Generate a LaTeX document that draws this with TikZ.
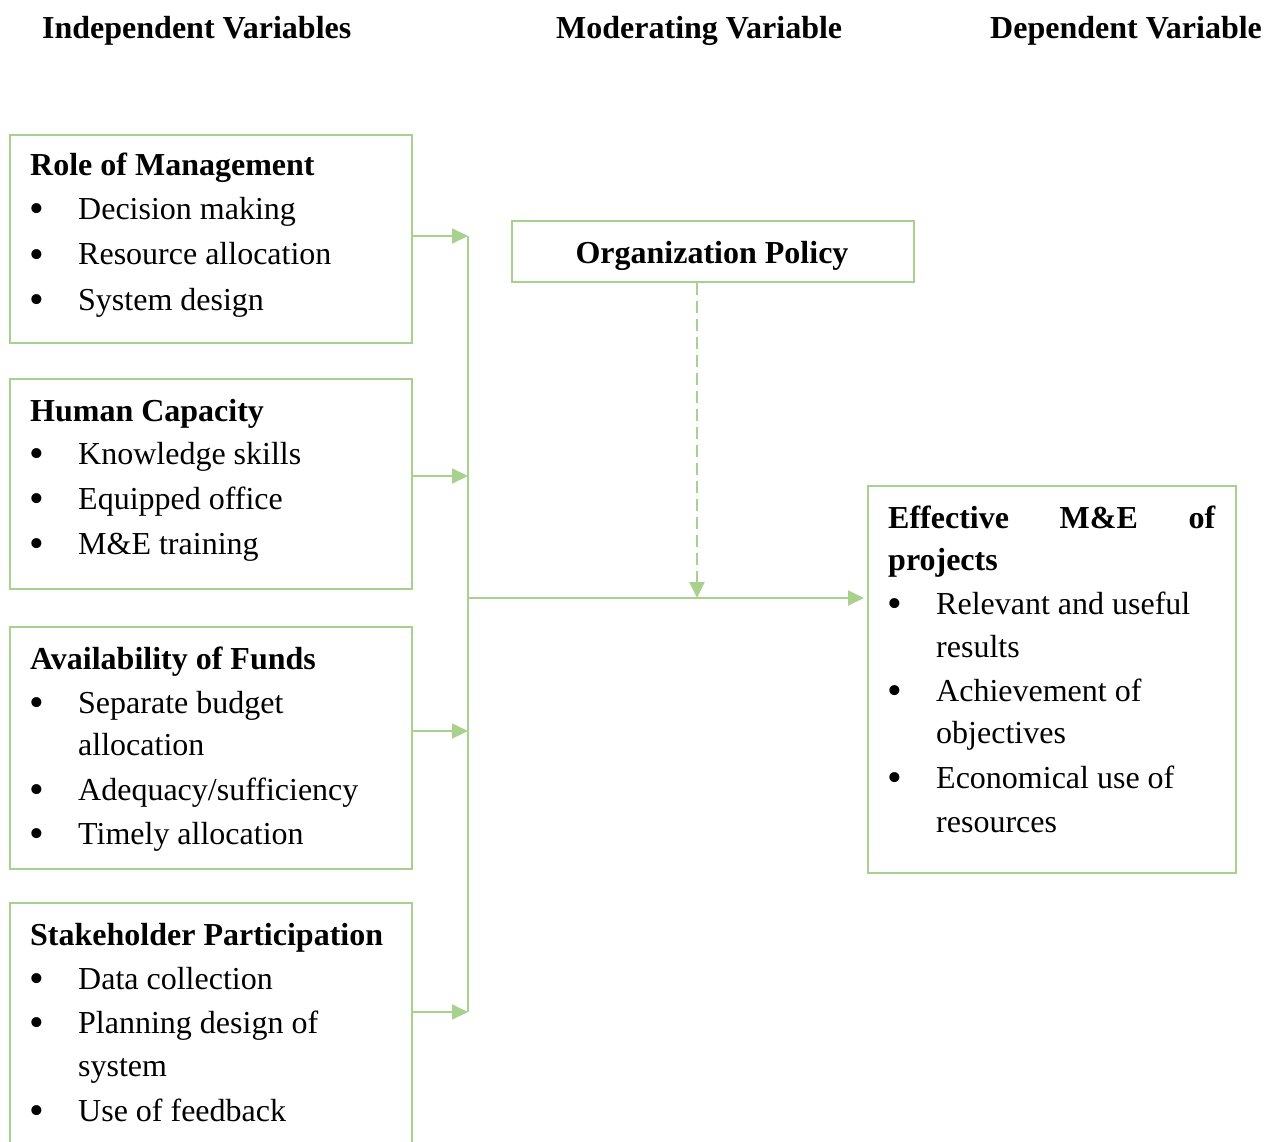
\documentclass[tikz,border=0pt]{standalone}
\usepackage{fontspec}
\setmainfont{Liberation Serif}
\usetikzlibrary{arrows.meta}
\definecolor{leaf}{HTML}{A9D18E}
\begin{document}
\begin{tikzpicture}[x=1pt,y=-1pt,
  box/.style={draw=leaf,line width=2pt,inner sep=0pt,anchor=north west},
  txt/.style={anchor=base west,inner sep=0pt,font=\fontsize{32}{38}\selectfont},
  hd/.style={txt,font=\fontsize{32}{38}\selectfont\bfseries},
  dot/.style={anchor=base west,inner sep=0pt,font=\fontsize{42}{42}\selectfont,yshift=-3pt},
  link/.style={draw=leaf,line width=2pt},
  arr/.style={link,-{Triangle[length=16pt,width=15pt]}},
]
\useasboundingbox (0,0) rectangle (1269,1142);

% column headings
\node[hd] (hIndep) at (42,39) {Independent Variables};
\node[hd] (hMod) at (556,39) {Moderating Variable};
\node[hd] (hDep) at (990,39) {Dependent Variable};

% independent variable boxes
\node[box,minimum width=402pt,minimum height=208pt] (b1) at (9,134) {};
\node[box,minimum width=402pt,minimum height=210pt] (b2) at (9,378) {};
\node[box,minimum width=402pt,minimum height=242pt] (b3) at (9,626) {};
\node[box,minimum width=402pt,minimum height=270pt] (b4) at (9,902) {};

% moderating and dependent boxes
\node[box,minimum width=402pt,minimum height=61pt] (pol) at (511,220) {};
\node[box,minimum width=368pt,minimum height=387pt] (eff) at (867,485) {};

% box 1
\node[hd] (t1) at (30,176) {Role of Management};
\node[dot] (d11) at (29,220) {•}; \node[txt] (l11) at (78,220) {Decision making};
\node[dot] (d12) at (29,265) {•}; \node[txt] (l12) at (78,265) {Resource allocation};
\node[dot] (d13) at (29,310) {•}; \node[txt] (l13) at (78,310) {System design};

% box 2
\node[hd] (t2) at (30,421) {Human Capacity};
\node[dot] (d21) at (29,464) {•}; \node[txt] (l21) at (78,464) {Knowledge skills};
\node[dot] (d22) at (29,509) {•}; \node[txt] (l22) at (78,509) {Equipped office};
\node[dot] (d23) at (29,554) {•}; \node[txt] (l23) at (78,554) {M\&E training};

% box 3
\node[hd] (t3) at (30,669) {Availability of Funds};
\node[dot] (d31) at (29,713) {•}; \node[txt] (l31) at (78,713) {Separate budget};
\node[txt] (l31b) at (78,755) {allocation};
\node[dot] (d32) at (29,800) {•}; \node[txt] (l32) at (78,800) {Adequacy/sufficiency};
\node[dot] (d33) at (29,844) {•}; \node[txt] (l33) at (78,844) {Timely allocation};

% box 4
\node[hd] (t4) at (30,945) {Stakeholder Participation};
\node[dot] (d41) at (29,989) {•}; \node[txt] (l41) at (78,989) {Data collection};
\node[dot] (d42) at (29,1033) {•}; \node[txt] (l42) at (78,1033) {Planning design of};
\node[txt] (l42b) at (78,1076) {system};
\node[dot] (d43) at (29,1121) {•}; \node[txt] (l43) at (78,1121) {Use of feedback};

% moderating variable
\node[hd,anchor=base] (tp) at (712,263) {Organization Policy};

% dependent variable
\node[hd] (te) at (888,528) {\hbox to 327pt{Effective\hfill M\&E\hfill of}};
\node[hd] (te2) at (888,570) {projects};
\node[dot] (e1) at (887,614) {•}; \node[txt] (el1) at (936,614) {Relevant and useful};
\node[txt] (el1b) at (936,657) {results};
\node[dot] (e2) at (887,701) {•}; \node[txt] (el2) at (936,701) {Achievement of};
\node[txt] (el2b) at (936,743) {objectives};
\node[dot] (e3) at (887,788) {•}; \node[txt] (el3) at (936,788) {Economical use of};
\node[txt] (el3b) at (936,832) {resources};

% connectors
\coordinate (k1) at (468,236);
\coordinate (k2) at (468,476);
\coordinate (k3) at (468,731);
\coordinate (k4) at (468,1012);
\coordinate (j) at (468,598);

\draw[link] (k1) -- (k4);
\draw[arr] (b1.east |- k1) -- (k1);
\draw[arr] (b2.east |- k2) -- (k2);
\draw[arr] (b3.east |- k3) -- (k3);
\draw[arr] (b4.east |- k4) -- (k4);
\draw[arr,shorten >=3pt] (j) -- (eff.west |- j);
\draw[arr,dash pattern=on 12pt off 6pt] (pol.south -| 697,0) -- (697,598);
\end{tikzpicture}
\end{document}
